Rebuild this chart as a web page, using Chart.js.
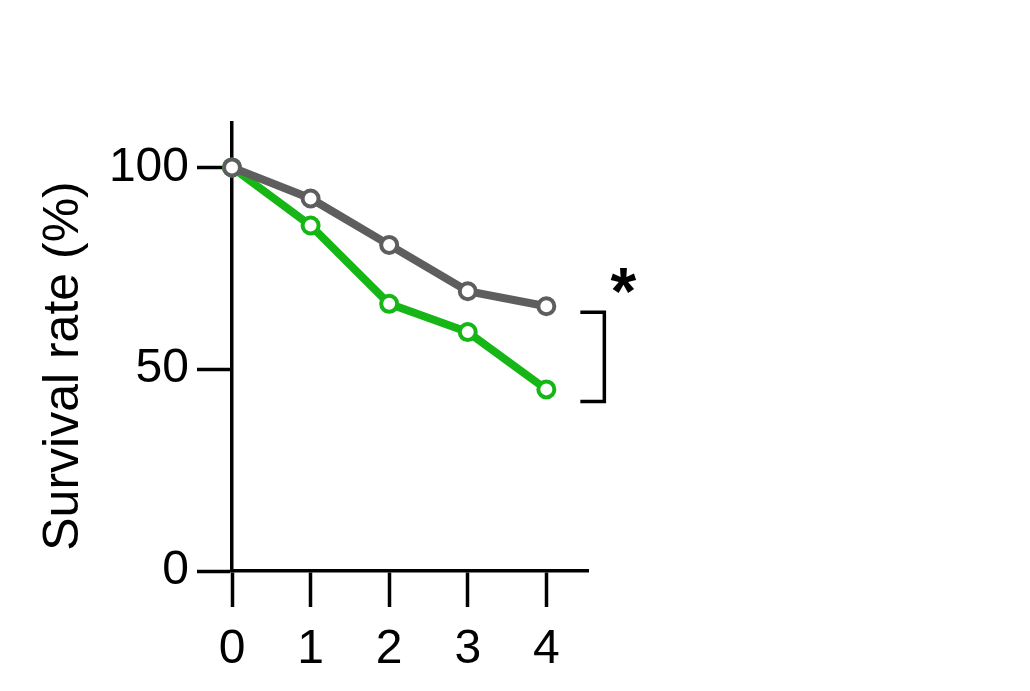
<!DOCTYPE html>
<html>
<head>
<meta charset="utf-8">
<script src="https://cdn.jsdelivr.net/npm/chart.js@4"></script>
<style>
  html, body { margin: 0; padding: 0; background: #fff; }
  #wrap { width: 1030px; height: 691px; position: relative; }
</style>
</head>
<body>
<div id="wrap"><canvas id="chart"></canvas></div>
<script>
// data
const days = [0, 1, 2, 3, 4];
const controlRate = [100, 92.3, 80.8, 69.3, 65.6];
const treatedRate = [100, 85.6, 66.2, 59.2, 45.0];
const yTicks = [0, 50, 100];
const yTitle = 'Survival rate (%)';
const sigMark = '*';

const GRAY = '#5e5e5e';
const GREEN = '#16b616';
const FONT = '"Liberation Sans", Arial, sans-serif';

// y-axis title, significance bracket and star
const extras = {
  id: 'extras',
  afterDraw(chart) {
    const ctx = chart.ctx;
    const x = chart.scales.x, y = chart.scales.y;
    ctx.save();
    ctx.fillStyle = '#000';
    ctx.font = '50px ' + FONT;
    ctx.textAlign = 'center';
    ctx.textBaseline = 'middle';
    ctx.translate(64, 366);
    ctx.rotate(-Math.PI / 2);
    ctx.fillText(yTitle, 0, 0);
    ctx.restore();

    // bracket between the last points of the two groups
    const last = days.length - 1;
    const bx = x.getPixelForValue(days[last]) + 58;
    const top = y.getPixelForValue(controlRate[last]) + 6;
    const bot = y.getPixelForValue(treatedRate[last]) + 12;
    ctx.save();
    ctx.strokeStyle = '#000';
    ctx.lineWidth = 3.5;
    ctx.beginPath();
    ctx.moveTo(bx - 24, top);
    ctx.lineTo(bx, top);
    ctx.lineTo(bx, bot);
    ctx.lineTo(bx - 24, bot);
    ctx.stroke();
    ctx.fillStyle = '#000';
    ctx.font = 'bold 66px ' + FONT;
    ctx.textAlign = 'center';
    ctx.textBaseline = 'middle';
    ctx.fillText(sigMark, bx + 19, top - 16);
    ctx.restore();
  }
};

function ds(label, values, color) {
  return {
    label: label,
    data: days.map((d, i) => ({ x: d, y: values[i] })),
    borderColor: color,
    backgroundColor: '#fff',
    borderWidth: 8,
    pointRadius: 8,
    pointBorderWidth: 4,
    pointBackgroundColor: '#fff',
    pointBorderColor: color,
    tension: 0,
    clip: false
  };
}

new Chart(document.getElementById('chart'), {
  type: 'line',
  data: {
    // first dataset is drawn on top
    datasets: [
      ds('control', controlRate, GRAY),
      ds('treated', treatedRate, GREEN)
    ]
  },
  plugins: [extras],
  options: {
    responsive: true,
    maintainAspectRatio: false,
    animation: false,
    layout: { padding: { left: 0, top: 123, right: 442, bottom: 0 } },
    plugins: { legend: { display: false }, tooltip: { enabled: false } },
    scales: {
      x: {
        type: 'linear',
        min: 0,
        max: 4.53,
        afterBuildTicks: s => { s.ticks = days.map(v => ({ value: v })); },
        afterFit: s => { s.height = 120; },
        grid: { drawOnChartArea: false, drawTicks: true, tickLength: 36, tickWidth: 3.5, tickColor: '#000' },
        border: { display: true, width: 3.5, color: '#000' },
        ticks: { color: '#000', padding: 14, font: { size: 48, family: FONT } }
      },
      y: {
        min: 0,
        max: 111,
        afterBuildTicks: s => { s.ticks = yTicks.map(v => ({ value: v })); },
        afterFit: s => { s.width = 232; },
        grid: { drawOnChartArea: false, drawTicks: true, tickLength: 35, tickWidth: 3.5, tickColor: '#000' },
        border: { display: true, width: 3.5, color: '#000' },
        ticks: { color: '#000', padding: 8, font: { size: 48, family: FONT } }
      }
    }
  }
});
</script>
</body>
</html>
